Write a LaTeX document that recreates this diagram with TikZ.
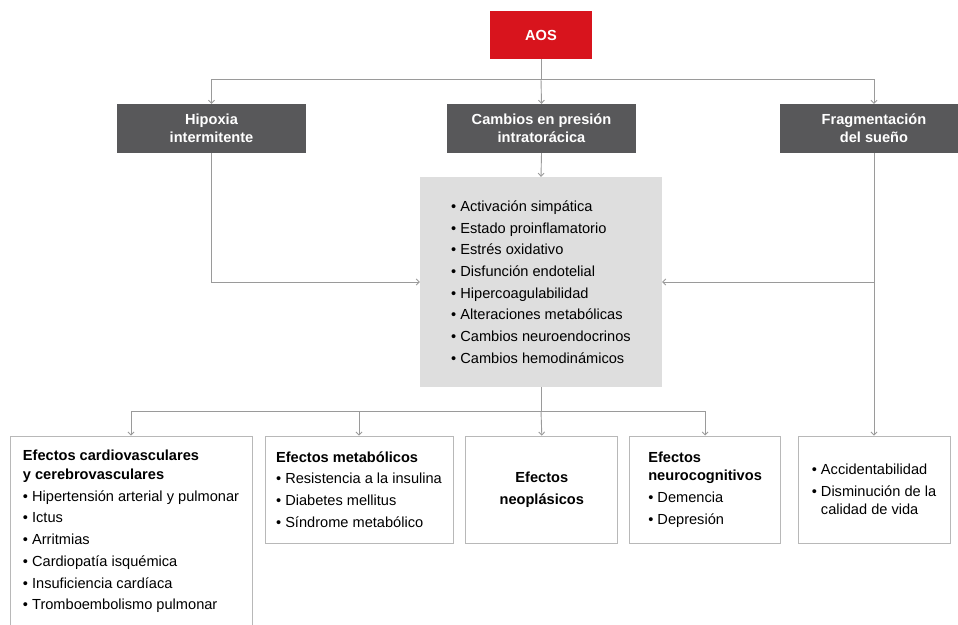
\documentclass[tikz,border=0pt]{standalone}
\usepackage{fontspec}
\setmainfont{Liberation Sans}
\usetikzlibrary{positioning,arrows.meta}
\definecolor{aosred}{HTML}{D8141D}
\definecolor{darkbox}{HTML}{58585A}
\definecolor{mechgray}{HTML}{DEDEDE}
\definecolor{linkgray}{HTML}{9A9A9A}
\definecolor{framegray}{HTML}{B8B8B8}
\tikzset{
  >={Straight Barb[length=3pt,width=6pt]},
  link/.style={draw=linkgray, line width=0.9pt},
}

\begin{document}
\begin{tikzpicture}[
  x=1pt, y=-1pt,
  head/.style={fill=darkbox, text=white, font=\bfseries\fontsize{14.6}{17.7}\selectfont,
    align=center, inner sep=0pt, minimum width=189pt, minimum height=49pt},
  effect/.style={draw=framegray, line width=0.8pt, fill=white, inner sep=0pt,
    font=\fontsize{14.6}{21.7}\selectfont, align=left, minimum height=107pt}
]
\useasboundingbox (0,0) rectangle (958,624);

% top level
\node[fill=aosred, text=white, font=\bfseries\fontsize{14.6}{17}\selectfont,
  inner sep=0pt, minimum width=102pt, minimum height=48pt] (aos) at (541,35) {AOS};
\node[head] (hip) at (211.5,128.5) {Hipoxia\\intermitente};
\node[head] (cam) at (541.5,128.5) {Cambios en presión\\intratorácica};
\node[head] (fra) at (874,128.5) {Fragmentación\\del sueño};

% mechanisms
\node[fill=mechgray, inner sep=0pt, minimum width=242pt, minimum height=210pt,
  align=left, font=\fontsize{14.6}{21.7}\selectfont] (mech) at (541,282) {%
  • Activación simpática\\
  • Estado proinflamatorio\\
  • Estrés oxidativo\\
  • Disfunción endotelial\\
  • Hipercoagulabilidad\\
  • Alteraciones metabólicas\\
  • Cambios neuroendocrinos\\
  • Cambios hemodinámicos};

% effects
\node[effect, minimum width=242pt, minimum height=191pt] (cv) at (131,531.5) {%
  \textbf{Efectos cardiovasculares}\\[-3pt]
  \textbf{y cerebrovasculares}\\
  • Hipertensión arterial y pulmonar\\
  • Ictus\\
  • Arritmias\\
  • Cardiopatía isquémica\\
  • Insuficiencia cardíaca\\
  • Tromboembolismo pulmonar};
\node[effect, minimum width=188pt] (met) at (359,489.5) {%
  \textbf{Efectos metabólicos}\\
  • Resistencia a la insulina\\
  • Diabetes mellitus\\
  • Síndrome metabólico};
\node[effect, minimum width=152pt, align=center, font=\bfseries\fontsize{14.6}{21.7}\selectfont,
  right=12pt of met] (neo) {Efectos\\neoplásicos};
\node[effect, minimum width=151pt, right=11pt of neo] (neu) {%
  \textbf{Efectos}\\[-3pt]
  \textbf{neurocognitivos}\\
  • Demencia\\
  • Depresión};
\node[effect, minimum width=152pt] (acc) at (874,489.5) {%
  • Accidentabilidad\\
  • Disminución de la\\[-3pt]
  \phantom{• }calidad de vida};

% connectors
\coordinate (busT) at (541,79);
\coordinate (busB) at (541,411);
\draw[link] (aos.south) -- (busT);
\draw[link,->] (busT) -| (hip.north);
\draw[link,->] (busT) -- (cam.north);
\draw[link,->] (busT) -| (fra.north);
\draw[link,->] (cam.south) -- (mech.north);
\draw[link,->] (hip.south) |- (mech.west);
\draw[link,->] (fra.south) |- (mech.east);
\draw[link,->] (fra.south) -- (acc.north);
\draw[link] (mech.south) -- (busB);
\draw[link,->] (busB) -| (cv.north);
\draw[link,->] (busB) -| (met.north);
\draw[link,->] (busB) -- (neo.north);
\draw[link,->] (busB) -| (neu.north);

\end{tikzpicture}
\end{document}
